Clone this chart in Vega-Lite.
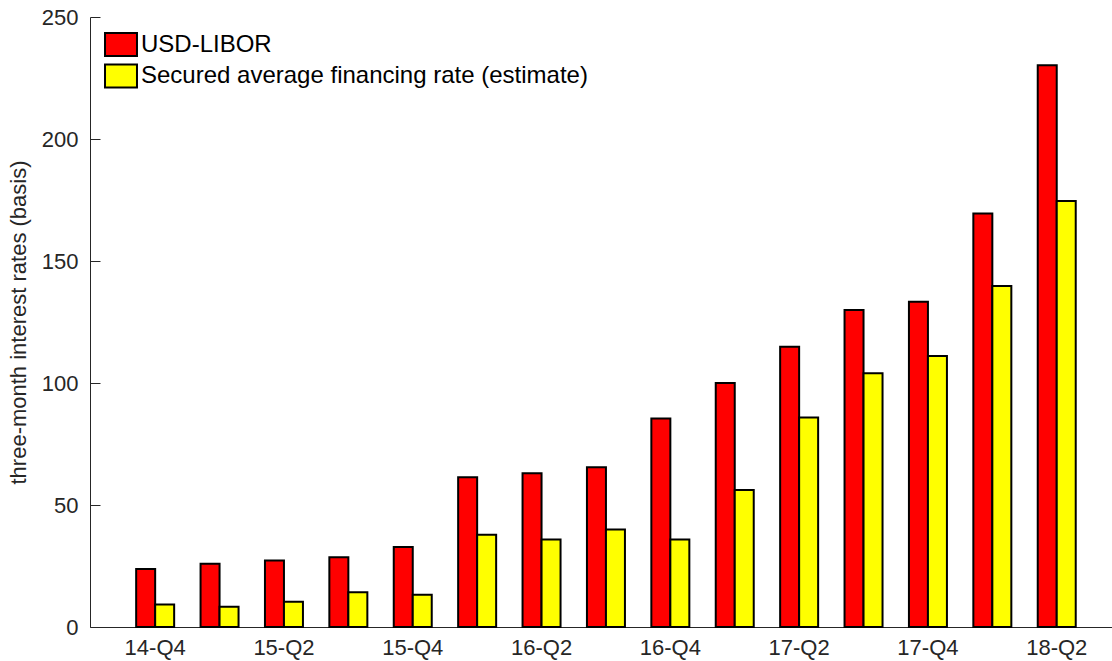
{
  "$schema": "https://vega.github.io/schema/vega-lite/v6.json",
  "autosize": "none",
  "width": 1022,
  "height": 610,
  "padding": {"left": 90, "top": 17, "right": 0, "bottom": 34},
  "background": "white",
  "config": {
    "font": "Liberation Sans",
    "view": {"stroke": null},
    "axis": {"labelFont": "Liberation Sans", "titleFont": "Liberation Sans", "labelColor": "#262626", "titleColor": "#262626", "domainColor": "#262626", "tickColor": "#262626", "grid": false}
  },
  "data": {
    "values": [
      {"quarter": "14-Q4", "series": "USD-LIBOR", "rate": 23.8},
      {"quarter": "15-Q1", "series": "USD-LIBOR", "rate": 25.9},
      {"quarter": "15-Q2", "series": "USD-LIBOR", "rate": 27.3},
      {"quarter": "15-Q3", "series": "USD-LIBOR", "rate": 28.6},
      {"quarter": "15-Q4", "series": "USD-LIBOR", "rate": 32.8},
      {"quarter": "16-Q1", "series": "USD-LIBOR", "rate": 61.4},
      {"quarter": "16-Q2", "series": "USD-LIBOR", "rate": 63.0},
      {"quarter": "16-Q3", "series": "USD-LIBOR", "rate": 65.5},
      {"quarter": "16-Q4", "series": "USD-LIBOR", "rate": 85.4},
      {"quarter": "17-Q1", "series": "USD-LIBOR", "rate": 100.0},
      {"quarter": "17-Q2", "series": "USD-LIBOR", "rate": 114.9},
      {"quarter": "17-Q3", "series": "USD-LIBOR", "rate": 129.9},
      {"quarter": "17-Q4", "series": "USD-LIBOR", "rate": 133.3},
      {"quarter": "18-Q1", "series": "USD-LIBOR", "rate": 169.5},
      {"quarter": "18-Q2", "series": "USD-LIBOR", "rate": 230.2},
      {"quarter": "14-Q4", "series": "Secured average financing rate (estimate)", "rate": 9.2},
      {"quarter": "15-Q1", "series": "Secured average financing rate (estimate)", "rate": 8.3},
      {"quarter": "15-Q2", "series": "Secured average financing rate (estimate)", "rate": 10.3},
      {"quarter": "15-Q3", "series": "Secured average financing rate (estimate)", "rate": 14.2},
      {"quarter": "15-Q4", "series": "Secured average financing rate (estimate)", "rate": 13.2},
      {"quarter": "16-Q1", "series": "Secured average financing rate (estimate)", "rate": 37.8},
      {"quarter": "16-Q2", "series": "Secured average financing rate (estimate)", "rate": 35.9},
      {"quarter": "16-Q3", "series": "Secured average financing rate (estimate)", "rate": 40.0},
      {"quarter": "16-Q4", "series": "Secured average financing rate (estimate)", "rate": 35.9},
      {"quarter": "17-Q1", "series": "Secured average financing rate (estimate)", "rate": 56.1},
      {"quarter": "17-Q2", "series": "Secured average financing rate (estimate)", "rate": 85.9},
      {"quarter": "17-Q3", "series": "Secured average financing rate (estimate)", "rate": 104.0},
      {"quarter": "17-Q4", "series": "Secured average financing rate (estimate)", "rate": 111.1},
      {"quarter": "18-Q1", "series": "Secured average financing rate (estimate)", "rate": 139.8},
      {"quarter": "18-Q2", "series": "Secured average financing rate (estimate)", "rate": 174.6}
    ]
  },
  "mark": {"type": "bar", "stroke": "black", "strokeWidth": 2, "opacity": 1},
  "encoding": {
    "x": {
      "field": "quarter", "type": "nominal", "sort": null,
      "scale": {"paddingInner": 0.41, "paddingOuter": 0.64, "align": 0.56},
      "axis": {
        "title": null, "labelAngle": 0, "ticks": false, "labelFontSize": 22, "labelPadding": 10,
        "values": ["14-Q4", "15-Q2", "15-Q4", "16-Q2", "16-Q4", "17-Q2", "17-Q4", "18-Q2"],
        "domainWidth": 1
      }
    },
    "xOffset": {
      "field": "series", "type": "nominal",
      "sort": ["USD-LIBOR", "Secured average financing rate (estimate)"],
      "scale": {"paddingInner": 0, "paddingOuter": 0}
    },
    "y": {
      "field": "rate", "type": "quantitative",
      "scale": {"domain": [0, 250], "nice": false},
      "axis": {
        "title": "three-month interest rates (basis)",
        "values": [0, 50, 100, 150, 200, 250],
        "tickSize": -10, "tickWidth": 1, "labelPadding": 22, "labelFontSize": 22,
        "titleFontSize": 22, "titleFontWeight": "normal",
        "titleAngle": 270, "titleAlign": "center", "titleBaseline": "middle",
        "titleX": -72, "titleY": 305, "domainWidth": 1
      }
    },
    "color": {
      "field": "series", "type": "nominal",
      "sort": ["USD-LIBOR", "Secured average financing rate (estimate)"],
      "scale": {"domain": ["USD-LIBOR", "Secured average financing rate (estimate)"], "range": ["#ff0000", "#ffff00"]},
      "legend": {
        "title": null, "orient": "none", "legendX": 18.5, "legendY": 15,
        "symbolType": "M-1.39,-1L1.39,-1L1.39,1L-1.39,1Z", "symbolSize": 529,
        "symbolStrokeColor": "black", "symbolStrokeWidth": 2, "symbolOpacity": 1,
        "labelFontSize": 24, "labelColor": "black", "labelOffset": 7.5, "labelLimit": 0,
        "rowPadding": 0.5, "padding": 0
      }
    }
  }
}
